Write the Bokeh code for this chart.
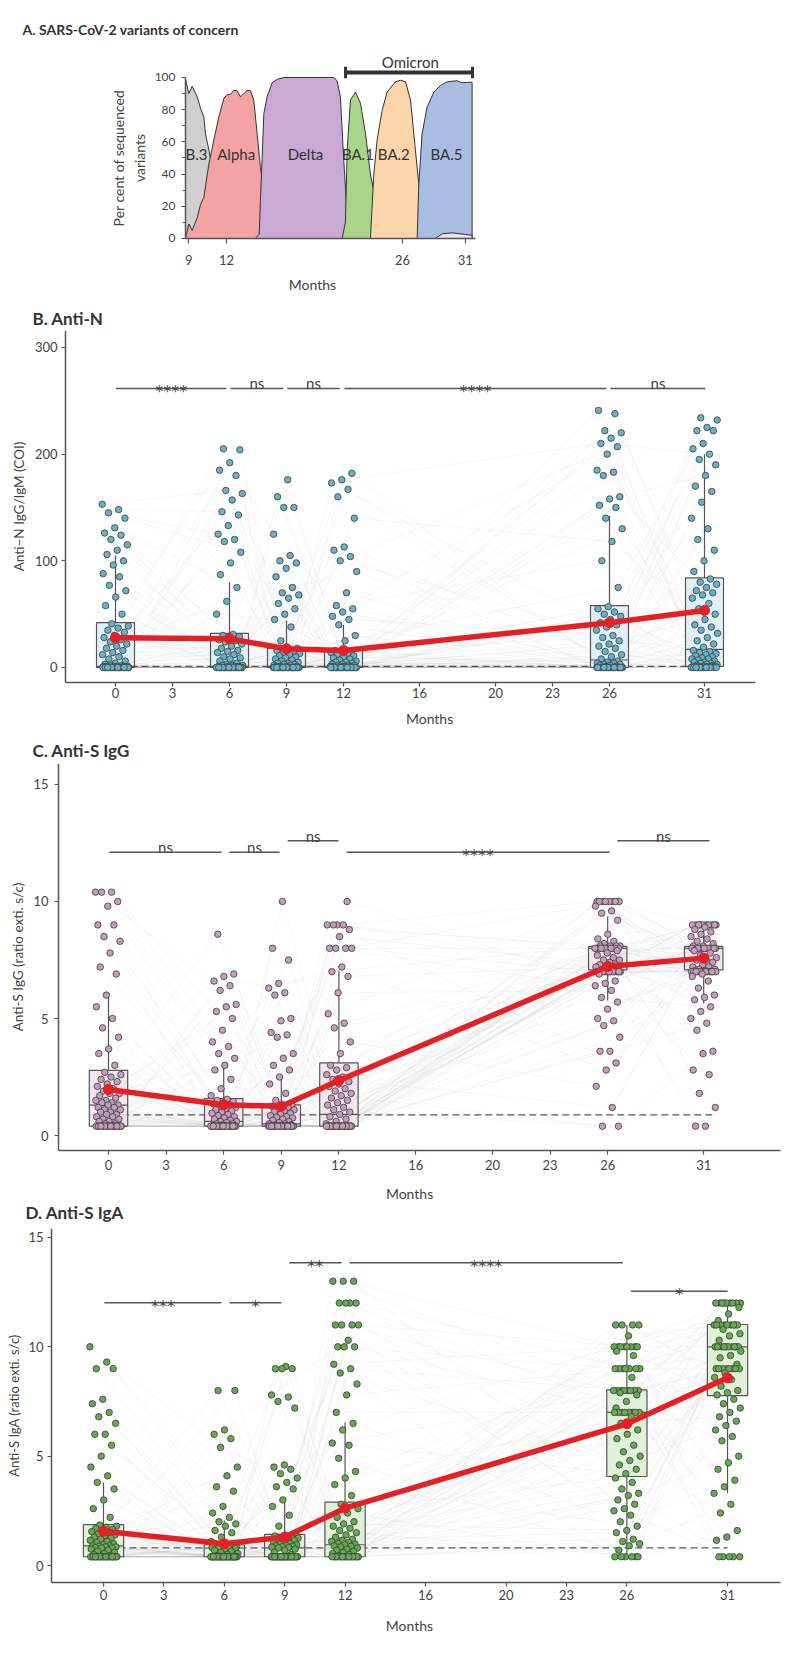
import numpy as np
from bokeh.plotting import figure
from bokeh.layouts import column
from bokeh.models import FixedTicker, Range1d
from bokeh.core.properties import value
from bokeh.embed import file_html
from bokeh.resources import INLINE

FONT = "Lato"
STAR_FONT = "DejaVu Sans"
TXT = "#444444"
AXC = "#555555"
RED = "#e41f26"

# ---------------- Panel A: variants (month, percent) ----------------
b3_m = [8.74, 8.74, 9.0, 9.27, 9.67, 9.93, 10.2, 10.33, 10.6, 11.0, 11.52, 12.3, 13.1, 13.5]
b3_p = [0, 99, 90, 94.6, 88, 81, 75.5, 65, 55, 38, 19, 5, 0.6, 0]
alpha_m = [8.74, 8.79, 9.0, 9.27, 9.67, 9.93, 10.2, 10.59, 10.99, 11.39, 11.79, 12.05, 12.32, 12.58,
           12.85, 13.11, 13.38, 13.64, 13.91, 14.17, 14.44, 14.7, 15.1, 15.5, 16.03, 16.56]
alpha_p = [0, 1.7, 9, 5, 13, 21, 25.6, 46, 61, 75.5, 87, 89.4, 89.6, 92, 91.7, 88, 90, 92, 91.7,
           86, 65, 44, 23.5, 7, 1.7, 0]
delta_m = [14.3, 14.6, 14.7, 14.97, 15.23, 15.63, 16.03, 16.56, 20.53, 20.8, 21.06, 21.33, 21.6,
           21.99, 22.52, 22.9]
delta_p = [0, 2.7, 23.5, 77.5, 88, 96.7, 98.8, 100, 100, 98, 88, 48.4, 15, 4.8, 0.6, 0]
ba1_m = [21.2, 21.46, 21.6, 21.86, 22.26, 22.66, 23.06, 23.45, 23.98, 24.78, 25.84, 26.6]
ba1_p = [0, 10, 54.7, 86, 91, 84, 65, 40, 19, 7, 1.7, 0]
ba2_m = [23.45, 23.72, 23.98, 24.38, 24.78, 25.44, 25.84, 26.24, 26.64, 27.03, 27.43, 27.96,
         28.76, 29.55, 30.0]
ba2_p = [0, 40, 61, 79.6, 91, 97.3, 98.3, 97.3, 86, 54.7, 23.5, 9, 2.7, 0.6, 0]
ba5_m = [27.17, 27.3, 27.56, 27.96, 28.5, 29.02, 29.55, 30.34, 30.74, 31.14, 31.54, 31.54]
ba5_p = [0, 34, 65, 81.7, 91, 95, 97.3, 98, 96.7, 97, 97, 0]
other_m = [28.6, 29.2, 30.0, 31.0, 31.54, 31.54]
other_p = [0, 3, 3.5, 2.5, 2, 0]
variant_names = ["B.3", "Alpha", "Delta", "BA.1", "BA.2", "BA.5"]
variant_label_m = [9.62, 12.77, 18.28, 22.45, 25.31, 29.5]
variant_label_p = [52.6, 52.6, 52.6, 52.6, 52.6, 52.6]
omicron_start, omicron_end, omicron_level = 21.47, 31.57, 103.1

# ---------------- Panels B-D ----------------
timepoints = [0, 6, 9, 12, 26, 31]
month_ticks = [0, 3, 6, 9, 12, 16, 20, 23, 26, 31]

antiN_0 = [153, 148, 145, 140, 131, 126, 124, 120, 115, 110, 106, 100, 96, 88, 85, 77, 72, 66, 58, 50,
           41, 39, 37, 35, 33, 30, 28, 26, 24, 22, 20, 18, 16, 14, 12, 10, 8, 6, 4, 3,
           2, 2, 1, 1, 1, 1, 1, 1, 0, 0, 0, 0, 0, 0, 0, 0, 0, 0, 0, 0,
           0, 0, 0, 0, 0, 0, 0, 0, 0, 0, 0, 0, 0, 0, 0, 0, 0, 0, 0, 0]
antiN_6 = [205, 204, 192, 185, 180, 166, 163, 157, 146, 143, 133, 125, 120, 118, 108, 98, 87, 75, 62, 50,
           31, 30, 29, 28, 26, 25, 24, 22, 20, 18, 16, 15, 14, 12, 10, 9, 8, 6, 4, 3,
           2, 2, 2, 1, 1, 1, 1, 0, 0, 0, 0, 0, 0, 0, 0, 0, 0, 0, 0, 0,
           0, 0, 0, 0, 0, 0, 0, 0, 0, 0, 0, 0, 0, 0, 0, 0, 0, 0, 0, 0]
antiN_9 = [176, 160, 150, 150, 125, 105, 100, 98, 93, 85, 75, 70, 68, 65, 60, 55, 50, 45, 38, 25,
           18, 17, 16, 15, 14, 13, 12, 11, 10, 9, 8, 7, 6, 5, 4, 4, 3, 3, 2, 2,
           1, 1, 1, 1, 0, 0, 0, 0, 0, 0, 0, 0, 0, 0, 0, 0, 0, 0, 0, 0,
           0, 0, 0, 0, 0, 0, 0, 0, 0, 0, 0, 0, 0, 0, 0, 0, 0, 0, 0, 0]
antiN_12 = [182, 176, 173, 167, 160, 140, 113, 110, 104, 100, 90, 70, 58, 55, 52, 48, 45, 40, 30, 25,
            16, 15, 15, 14, 13, 12, 11, 10, 9, 8, 7, 6, 5, 5, 4, 3, 3, 2, 2, 2,
            1, 1, 1, 1, 1, 0, 0, 0, 0, 0, 0, 0, 0, 0, 0, 0, 0, 0, 0, 0,
            0, 0, 0, 0, 0, 0, 0, 0, 0, 0, 0, 0, 0, 0, 0, 0, 0, 0, 0, 0]
antiN_26 = [241, 238, 222, 220, 215, 210, 207, 200, 185, 183, 180, 160, 158, 152, 150, 140, 130, 118, 100, 75,
            57, 55, 52, 50, 48, 45, 42, 40, 38, 35, 30, 28, 25, 22, 20, 18, 15, 12, 10, 8,
            6, 5, 4, 4, 3, 3, 2, 2, 1, 1, 0, 0, 0, 0, 0, 0, 0, 0, 0, 0,
            0, 0, 0, 0, 0, 0, 0, 0, 0, 0, 0, 0, 0, 0, 0, 0, 0, 0, 0, 0]
antiN_31 = [234, 232, 225, 222, 222, 210, 205, 200, 195, 190, 180, 170, 165, 155, 140, 130, 120, 110, 100, 90,
            83, 80, 78, 75, 72, 70, 68, 65, 60, 55, 50, 45, 40, 38, 35, 32, 28, 25, 22, 19,
            16, 15, 14, 13, 12, 11, 10, 9, 8, 8, 7, 6, 5, 5, 4, 4, 3, 3, 2, 2,
            1, 1, 1, 1, 1, 1, 1, 1, 0, 0, 0, 0, 0, 0, 0, 0, 0, 0, 0, 0]
antiN_q1 = [0, 0, 0, 0, 0, 1]
antiN_med = [1, 1, 1, 1, 7, 17]
antiN_q3 = [42, 32, 18, 16, 58, 84]
antiN_lo = [0, 0, 0, 0, 0, 0]
antiN_hi = [105, 80, 44, 40, 142, 200]
antiN_mean = [27.8, 26.9, 17.5, 15.9, 42, 53.5]
antiN_cutoff = 1.0
antiN_sig_x0 = [0.03, 6.05, 9.04, 12.05, 26.05]
antiN_sig_x1 = [5.83, 8.83, 11.8, 25.84, 31.05]
antiN_sig_y = [261.6, 261.6, 261.6, 261.6, 261.6]
antiN_sig_lab = ["****", "ns", "ns", "****", "ns"]

igg_0 = [10.4, 10.4, 10.4, 10.0, 9.8, 9.0, 9.0, 8.5, 8.3, 7.8, 7.2, 6.9, 6.0, 5.5, 5.0, 4.6, 4.2, 3.7, 3.5, 3.0,
         2.7, 2.6, 2.5, 2.4, 2.3, 2.2, 2.1, 2.0, 1.9, 1.8, 1.8, 1.7, 1.6, 1.5, 1.5, 1.4, 1.4, 1.3, 1.3, 1.2,
         1.2, 1.1, 1.1, 1.0, 1.0, 0.9, 0.9, 0.8, 0.8, 0.7, 0.7, 0.6, 0.6, 0.5, 0.5, 0.4, 0.4, 0.4, 0.4, 0.4,
         0.4, 0.4, 0.4, 0.4, 0.4, 0.4, 0.4, 0.4, 0.4, 0.4, 0.4, 0.4, 0.4, 0.4, 0.4, 0.4, 0.4, 0.4, 0.4, 0.4]
igg_6 = [8.6, 6.9, 6.8, 6.6, 6.4, 6.2, 5.6, 5.5, 5.3, 5.0, 4.5, 4.0, 3.8, 3.5, 3.3, 3.0, 2.8, 2.4, 2.0, 1.7,
         1.55, 1.5, 1.45, 1.4, 1.35, 1.3, 1.25, 1.2, 1.15, 1.1, 1.05, 1.0, 0.95, 0.9, 0.85, 0.8, 0.75, 0.7, 0.65, 0.6,
         0.6, 0.55, 0.5, 0.5, 0.45, 0.4, 0.4, 0.4, 0.4, 0.4, 0.4, 0.4, 0.4, 0.4, 0.4, 0.4, 0.4, 0.4, 0.4, 0.4,
         0.4, 0.4, 0.4, 0.4, 0.4, 0.4, 0.4, 0.4, 0.4, 0.4, 0.4, 0.4, 0.4, 0.4, 0.4, 0.4, 0.4, 0.4, 0.4, 0.4]
igg_9 = [10.0, 8.0, 7.5, 6.5, 6.3, 6.1, 6.0, 5.0, 4.9, 4.4, 4.3, 4.2, 3.5, 3.3, 3.0, 2.8, 2.5, 2.2, 1.8, 1.5,
         1.3, 1.28, 1.25, 1.2, 1.15, 1.1, 1.05, 1.0, 0.95, 0.9, 0.85, 0.8, 0.78, 0.75, 0.7, 0.65, 0.6, 0.55, 0.5, 0.5,
         0.45, 0.45, 0.4, 0.4, 0.4, 0.4, 0.4, 0.4, 0.4, 0.4, 0.4, 0.4, 0.4, 0.4, 0.4, 0.4, 0.4, 0.4, 0.4, 0.4,
         0.4, 0.4, 0.4, 0.4, 0.4, 0.4, 0.4, 0.4, 0.4, 0.4, 0.4, 0.4, 0.4, 0.4, 0.4, 0.4, 0.4, 0.4, 0.4, 0.4]
igg_12 = [10.0, 9.0, 9.0, 9.0, 9.0, 8.8, 8.5, 8.0, 8.0, 8.0, 8.0, 7.2, 7.0, 6.8, 6.1, 5.2, 4.8, 4.6, 4.0, 3.5,
          3.0, 2.9, 2.8, 2.6, 2.5, 2.4, 2.3, 2.2, 2.1, 2.0, 1.9, 1.8, 1.7, 1.6, 1.5, 1.4, 1.3, 1.2, 1.1, 1.0,
          0.9, 0.8, 0.7, 0.6, 0.5, 0.4, 0.4, 0.4, 0.4, 0.4, 0.4, 0.4, 0.4, 0.4, 0.4, 0.4, 0.4, 0.4, 0.4, 0.4,
          0.4, 0.4, 0.4, 0.4, 0.4, 0.4, 0.4, 0.4, 0.4, 0.4, 0.4, 0.4, 0.4, 0.4, 0.4, 0.4, 0.4, 0.4, 0.4, 0.4]
igg_26 = [10, 10, 10, 10, 10, 10, 10, 10, 9.8, 9.6, 9.5, 9.2, 8.6, 8.4, 8.3, 8.2, 8.1, 8.1, 8.1, 8.1,
          8, 8, 8, 8, 8, 8, 8, 8, 8, 8, 8, 8, 7.9, 7.8, 7.7, 7.6, 7.5, 7.5, 7.4, 7.3,
          7.3, 7.2, 7.2, 7.1, 7.1, 7, 7, 7, 7, 7, 7, 7, 7, 7, 7, 7, 7, 7, 7, 7,
          6.9, 6.6, 6.5, 6.4, 6.2, 5.9, 5.7, 5.4, 5.0, 4.9, 4.7, 4.2, 3.6, 3.6, 3.1, 2.8, 2.1, 1.2, 0.4, 0.4]
igg_31 = [9, 9, 9, 9, 9, 9, 9, 9, 9, 9, 8.9, 8.8, 8.7, 8.6, 8.5, 8.4, 8.3, 8.2, 8.1, 8.1,
          8, 8, 8, 8, 8, 8, 8, 8, 8, 8, 8, 8, 7.9, 7.8, 7.7, 7.6, 7.5, 7.5, 7.4, 7.3,
          7.2, 7.2, 7.1, 7.1, 7.05, 7.05, 7, 7, 7, 7, 7, 7, 7, 7, 7, 7, 7, 7, 7, 7,
          6.9, 6.8, 6.6, 6.3, 6.0, 5.9, 5.8, 5.5, 5.3, 5.0, 4.8, 4.5, 3.6, 3.5, 2.8, 2.6, 1.8, 1.2, 0.4, 0.4]
igg_q1 = [0.4, 0.4, 0.4, 0.4, 7.08, 7.08]
igg_med = [1.3, 0.6, 0.5, 0.9, 8.0, 8.0]
igg_q3 = [2.78, 1.58, 1.31, 3.1, 8.08, 8.08]
igg_lo = [0.4, 0.4, 0.4, 0.4, 5.77, 5.64]
igg_hi = [6.07, 3.1, 2.6, 7.05, 9.36, 9.07]
igg_mean = [1.97, 1.31, 1.25, 2.35, 7.22, 7.58]
igg_cutoff = 0.88
igg_sig_x0 = [0.05, 6.3, 9.33, 12.4, 26.5]
igg_sig_x1 = [5.89, 8.91, 11.98, 26.1, 31.3]
igg_sig_y = [12.1, 12.1, 12.6, 12.1, 12.6]
igg_sig_lab = ["ns", "ns", "ns", "****", "ns"]

iga_0 = [10, 9.3, 9, 9, 7.6, 7.4, 7.0, 6.8, 6.5, 6.0, 6.0, 5.5, 5.0, 4.5, 4.1, 3.8, 3.5, 3.0, 2.6, 2.2,
         1.85, 1.8, 1.75, 1.7, 1.65, 1.6, 1.55, 1.5, 1.45, 1.4, 1.35, 1.3, 1.25, 1.2, 1.15, 1.1, 1.05, 1.0, 0.95, 0.9,
         0.9, 0.88, 0.85, 0.85, 0.82, 0.8, 0.8, 0.75, 0.7, 0.65, 0.6, 0.55, 0.5, 0.45, 0.4, 0.4, 0.4, 0.4, 0.4, 0.4,
         0.4, 0.4, 0.4, 0.4, 0.4, 0.4, 0.4, 0.4, 0.4, 0.4, 0.4, 0.4, 0.4, 0.4, 0.4, 0.4, 0.4, 0.4, 0.4, 0.4]
iga_6 = [8.0, 8.0, 6.2, 6.0, 5.8, 5.4, 4.5, 4.1, 3.6, 3.4, 2.7, 2.4, 2.2, 2.0, 1.9, 1.8, 1.6, 1.5, 1.3, 1.1,
         0.95, 0.94, 0.93, 0.92, 0.9, 0.9, 0.88, 0.87, 0.86, 0.85, 0.84, 0.83, 0.82, 0.81, 0.8, 0.78, 0.75, 0.7, 0.65, 0.6,
         0.55, 0.5, 0.45, 0.4, 0.4, 0.4, 0.4, 0.4, 0.4, 0.4, 0.4, 0.4, 0.4, 0.4, 0.4, 0.4, 0.4, 0.4, 0.4, 0.4,
         0.4, 0.4, 0.4, 0.4, 0.4, 0.4, 0.4, 0.4, 0.4, 0.4, 0.4, 0.4, 0.4, 0.4, 0.4, 0.4, 0.4, 0.4, 0.4, 0.4]
iga_9 = [9.1, 9.0, 9.0, 9.0, 7.8, 7.7, 7.5, 7.2, 4.6, 4.5, 4.4, 4.2, 4.0, 3.8, 3.6, 3.5, 3.0, 2.7, 2.3, 1.8,
         1.4, 1.38, 1.35, 1.3, 1.28, 1.25, 1.2, 1.18, 1.15, 1.1, 1.05, 1.0, 0.98, 0.95, 0.92, 0.9, 0.88, 0.86, 0.84, 0.82,
         0.8, 0.75, 0.7, 0.6, 0.5, 0.4, 0.4, 0.4, 0.4, 0.4, 0.4, 0.4, 0.4, 0.4, 0.4, 0.4, 0.4, 0.4, 0.4, 0.4,
         0.4, 0.4, 0.4, 0.4, 0.4, 0.4, 0.4, 0.4, 0.4, 0.4, 0.4, 0.4, 0.4, 0.4, 0.4, 0.4, 0.4, 0.4, 0.4, 0.4]
iga_12 = [13, 13, 13, 12, 12, 12, 12, 11, 11, 11, 11, 10.3, 10, 10, 10, 9.2, 9, 8.8, 8.3, 7.8,
          7, 6.5, 6.2, 5.6, 5.5, 4.9, 4.3, 4, 3.7, 3.2, 2.8, 2.6, 2.4, 2.2, 2.0, 1.9, 1.8, 1.7, 1.6, 1.5,
          1.4, 1.3, 1.2, 1.15, 1.1, 1.05, 1.0, 0.98, 0.95, 0.9, 0.88, 0.85, 0.8, 0.75, 0.7, 0.65, 0.6, 0.55, 0.5, 0.45,
          0.4, 0.4, 0.4, 0.4, 0.4, 0.4, 0.4, 0.4, 0.4, 0.4, 0.4, 0.4, 0.4, 0.4, 0.4, 0.4, 0.4, 0.4, 0.4, 0.4]
iga_26 = [11, 11, 11, 11, 10.5, 10, 10, 10, 10, 10, 10, 10, 10, 9.8, 9.6, 9, 9, 9, 9, 9,
          9, 9, 8.6, 8, 8, 8, 8, 8, 8, 8, 8, 7.9, 7.8, 7.5, 7.2, 7, 7, 7, 7, 7,
          7, 7, 7, 6.8, 6.5, 6.2, 6.0, 5.8, 5.5, 5.2, 5.0, 4.8, 4.6, 4.4, 4.2, 4.0, 3.8, 3.5, 3.3, 3.2,
          3.0, 2.8, 2.6, 2.5, 2.3, 2.0, 1.8, 1.6, 1.5, 1.2, 1.1, 1.0, 0.9, 0.7, 0.4, 0.4, 0.4, 0.4, 0.4, 0.4]
iga_31 = [12, 12, 12, 12, 12, 12, 12, 12, 12, 11.8, 11.5, 11.2, 11, 11, 11, 11, 11, 11, 11, 11,
          11, 10.8, 10.6, 10.5, 10.3, 10, 10, 10, 10, 10, 10, 10, 10, 10, 10, 9.8, 9.6, 9.5, 9.2, 9,
          9, 9, 9, 9, 9, 9, 9, 8.8, 8.6, 8.5, 8.2, 8.0, 7.9, 7.8, 7.6, 7.4, 7.2, 7.0, 6.8, 6.6,
          6.4, 6.2, 5.9, 5.7, 5.0, 4.7, 4.4, 3.9, 3.6, 3.3, 2.8, 2.4, 1.6, 1.3, 1.15, 0.4, 0.4, 0.4, 0.4, 0.4]
iga_q1 = [0.4, 0.4, 0.4, 0.4, 4.07, 7.77]
iga_med = [0.9, 0.8, 0.81, 0.95, 7.0, 10.0]
iga_q3 = [1.87, 0.95, 1.42, 2.9, 8.03, 11.02]
iga_lo = [0.4, 0.4, 0.4, 0.4, 0.4, 3.3]
iga_hi = [3.8, 2.06, 2.9, 6.55, 11.0, 12.0]
iga_mean = [1.57, 0.99, 1.3, 2.62, 6.48, 8.58]
iga_cutoff = 0.81
iga_sig_x0 = [0.05, 6.26, 9.23, 12.22, 26.2]
iga_sig_x1 = [5.85, 8.83, 11.82, 25.8, 31.0]
iga_sig_y = [12.01, 12.01, 13.84, 13.84, 12.54]
iga_sig_lab = ["***", "*", "**", "****", "*"]

# subject pairing across visits (index permutation) and horizontal jitter
PERM_K = [1, 3, 7, 11, 13, 17]
PERM_C = [0, 5, 11, 23, 31, 41]


def jit(i, g, spread):
    return ((i * 0.6180339887 + g * 0.2718) % 1.0 - 0.5) * spread


def base_fig(height, top, xr, yr, title, title_size, title_offset, standoff, yaxis_at, xaxis_at,
             xbounds, ybounds):
    p = figure(width=800, height=height, x_range=Range1d(*xr), y_range=Range1d(*yr),
               output_backend="svg", toolbar_location=None, title=title,
               min_border_left=0, min_border_right=0, min_border_top=top, min_border_bottom=0)
    p.xgrid.visible = False
    p.ygrid.visible = False
    p.outline_line_color = None
    if title:
        p.title.align = "left"
        p.title.offset = title_offset
        p.title.standoff = standoff
        p.title.text_font = FONT
        p.title.text_font_size = title_size
        p.title.text_font_style = "bold"
        p.title.text_color = "#333333"
    p.yaxis.fixed_location = yaxis_at
    p.xaxis.fixed_location = xaxis_at
    p.xaxis.bounds = xbounds
    p.yaxis.bounds = ybounds
    for ax in (p.xaxis[0], p.yaxis[0]):
        ax.axis_line_color = AXC
        ax.axis_line_width = 1.5
        ax.major_tick_line_color = AXC
        ax.major_tick_line_width = 1.2
        ax.major_tick_out = 4
        ax.major_tick_in = 0
        ax.minor_tick_line_color = None
        ax.major_label_text_font = FONT
        ax.major_label_text_font_size = "13px"
        ax.major_label_text_color = TXT
        ax.axis_label_text_font = FONT
        ax.axis_label_text_font_style = "normal"
        ax.axis_label_text_font_size = "14px"
        ax.axis_label_text_color = TXT
    return p


def months_label(p, x, y):
    p.text(x=[x], y=[y], text=["Months"], text_font=value(FONT), text_font_size="14px",
           text_color=TXT, text_align="center", text_baseline="middle")


# ---------------- Figure A ---------------- page y 0..300, frame 40..300, y=0 at page 238
pa = base_fig(300, 40, (-5.979, 57.664), (-38.51, 122.98),
              "A. SARS-CoV-2 variants of concern", "14px", 22, 5, 8.74, 0, (8.74, 31.81), (0, 100))
areas = [(b3_m, b3_p, "#cfcfcf"), (alpha_m, alpha_p, "#f4a3a5"), (delta_m, delta_p, "#c9a8d3"),
         (ba1_m, ba1_p, "#a9d58a"), (ba2_m, ba2_p, "#fdd5ab"), (ba5_m, ba5_p, "#a9bde3"),
         (other_m, other_p, "#e6e6e6")]
for xm, yp, col in areas:
    pa.patch(xm, yp, fill_color=col, line_color="#333333", line_width=1)
pa.text(x=variant_label_m, y=variant_label_p, text=variant_names, text_font=value(FONT),
        text_font_size="15px", text_color="#333333", text_align="center", text_baseline="middle")
pa.segment(x0=[omicron_start], x1=[omicron_end], y0=[omicron_level], y1=[omicron_level],
           line_color="#333333", line_width=4)
pa.segment(x0=[omicron_start, omicron_end], x1=[omicron_start, omicron_end],
           y0=[omicron_level - 3.6, omicron_level - 3.6], y1=[omicron_level + 3.6, omicron_level + 3.6],
           line_color="#333333", line_width=3)
pa.text(x=[(omicron_start + omicron_end) / 2 + 0.1], y=[omicron_level + 6.5], text=["Omicron"],
        text_font=value(FONT), text_font_size="15px", text_color="#333333",
        text_align="center", text_baseline="middle")
pa.xaxis.ticker = FixedTicker(ticks=[9, 12, 26, 31])
pa.yaxis.ticker = FixedTicker(ticks=[0, 20, 40, 60, 80, 100], minor_ticks=[10, 30, 50, 70, 90])
pa.yaxis.minor_tick_line_color = AXC
pa.yaxis.minor_tick_out = 3
pa.yaxis.minor_tick_in = 0
pa.xaxis.major_tick_out = 5
pa.xaxis.major_label_standoff = 12
pa.yaxis.axis_label = "Per cent of sequenced\nvariants"
pa.yaxis.axis_label_standoff = 4
pa.yaxis.major_label_standoff = 6
pa.yaxis.major_label_text_font_size = "12px"
pa.yaxis.axis_label_text_font_size = "14px"
months_label(pa, 18.84, -28.57)


def draw_panel(p, groups, q1, med, q3, lo, hi, mean, cutoff, cut_x, sig_x0, sig_x1, sig_y, sig_lab,
               box_fill, pt_fill, spread, ppu):
    n_sub = min(len(g) for g in groups)
    xs_l, ys_l = [], []
    for s in range(n_sub):
        xl, yl = [], []
        for g, vals in enumerate(groups):
            idx = (s * PERM_K[g] + PERM_C[g]) % len(vals)
            xl.append(timepoints[g] + jit(idx, g, spread))
            yl.append(vals[idx])
        xs_l.append(xl)
        ys_l.append(yl)
    p.multi_line(xs_l, ys_l, line_color="#8a8a8a", line_alpha=0.09, line_width=0.8)
    p.line(cut_x, [cutoff, cutoff], line_dash="7 4", line_color="#555555", line_width=1.3)
    p.vbar(x=timepoints, width=2.0, bottom=q1, top=q3, fill_color=box_fill, fill_alpha=0.85,
           line_color="#555555", line_width=1.2)
    p.segment(x0=[t - 1 for t in timepoints], x1=[t + 1 for t in timepoints], y0=med, y1=med,
              line_color="#555555", line_width=1.2)
    p.segment(x0=timepoints, x1=timepoints, y0=q3, y1=hi, line_color="#555555", line_width=1.2)
    p.segment(x0=timepoints, x1=timepoints, y0=lo, y1=q1, line_color="#555555", line_width=1.2)
    px, py = [], []
    for g, vals in enumerate(groups):
        for i, v in enumerate(vals):
            px.append(timepoints[g] + jit(i, g, spread))
            py.append(v)
    p.scatter(px, py, size=6.5, fill_color=pt_fill, line_color="#33403f", line_width=0.8)
    p.line(timepoints, mean, line_color=RED, line_width=5.5)
    p.scatter(timepoints, mean, size=10, fill_color=RED, line_color=RED)
    p.segment(x0=sig_x0, x1=sig_x1, y0=sig_y, y1=sig_y, line_color="#555555", line_width=1.5)
    cx = [(a + b) / 2 for a, b in zip(sig_x0, sig_x1)]
    ns_x = [c for c, l in zip(cx, sig_lab) if l == "ns"]
    ns_y = [y + 5 / ppu for y, l in zip(sig_y, sig_lab) if l == "ns"]
    st_x = [c for c, l in zip(cx, sig_lab) if l != "ns"]
    st_y = [y - 3.5 / ppu for y, l in zip(sig_y, sig_lab) if l != "ns"]
    st_t = [l for l in sig_lab if l != "ns"]
    if ns_x:
        p.text(x=ns_x, y=ns_y, text=["ns"] * len(ns_x), text_font=value(FONT), text_font_size="15px",
               text_color=TXT, text_align="center", text_baseline="alphabetic")
    if st_x:
        p.text(x=st_x, y=st_y, text=st_t, text_font=value(STAR_FONT), text_font_size="16px",
               text_color=TXT, text_align="center", text_baseline="alphabetic")
    p.xaxis.ticker = FixedTicker(ticks=month_ticks)


# ---------------- Figure B ---------------- page y 300..732, frame 330..732, 0 at 667 (1.0667 px/unit)
pb = base_fig(432, 30, (-6.053, 36.053), (-60.94, 315.9), "B. Anti-N", "17px", 32, 3,
              -2.632, -14.06, (-2.632, 33.684), (-14.06, 315.9))
draw_panel(pb, [antiN_0, antiN_6, antiN_9, antiN_12, antiN_26, antiN_31], antiN_q1, antiN_med, antiN_q3,
           antiN_lo, antiN_hi, antiN_mean, antiN_cutoff, [-0.95, 31.8], antiN_sig_x0, antiN_sig_x1,
           antiN_sig_y, antiN_sig_lab, "#dcedf3", "#6bb0c4", 1.4, 1.0668)
pb.yaxis.ticker = FixedTicker(ticks=[0, 100, 200, 300])
pb.yaxis.axis_label = "Anti\u2212N IgG/IgM (COI)"
pb.yaxis.major_label_standoff = 4
pb.yaxis.axis_label_standoff = 5
pb.yaxis.axis_label_text_font_size = "13.5px"
pb.xaxis.major_label_standoff = 2
months_label(pb, 16.53, -47.8)

# ---------------- Figure C ---------------- page y 732..1228, frame 763..1228, 0 at 1135 (23.4 px/unit)
pc = base_fig(496, 31, (-5.625, 36.042), (-3.974, 15.897), "C. Anti-S IgG", "17px", 32, 6,
              -2.604, -0.641, (-2.604, 35.0), (-0.641, 15.897))
draw_panel(pc, [igg_0, igg_6, igg_9, igg_12, igg_26, igg_31], igg_q1, igg_med, igg_q3, igg_lo, igg_hi,
           igg_mean, igg_cutoff, [-1.0, 31.5], igg_sig_x0, igg_sig_x1, igg_sig_y, igg_sig_lab,
           "#f1e2ec", "#c99bbb", 1.35, 23.4)
pc.yaxis.ticker = FixedTicker(ticks=[0, 5, 10, 15])
pc.yaxis.axis_label = "Anti-S IgG (ratio exti. s/c)"
pc.yaxis.major_label_standoff = 6
pc.yaxis.axis_label_standoff = 4
pc.yaxis.axis_label_text_font_size = "13.5px"
pc.xaxis.major_label_standoff = 5
months_label(pc, 15.68, -2.479)
# heading of panel D sits in the band shared with panel C's axis title
pc.text(x=[-4.323], y=[-3.29], text=["D. Anti-S IgA"], text_font=value(FONT), text_font_size="17px",
        text_font_style="bold", text_color="#333333", text_align="left", text_baseline="alphabetic")

# ---------------- Figure D ---------------- page y 1228..1660, frame 1228..1660, 0 at 1565 (21.87 px/unit)
pd_ = base_fig(432, 0, (-5.117, 34.625), (-4.344, 15.41), None, "17px", 0, 0,
               -2.583, -0.777, (-2.583, 33.63), (-0.777, 15.41))
draw_panel(pd_, [iga_0, iga_6, iga_9, iga_12, iga_26, iga_31], iga_q1, iga_med, iga_q3, iga_lo, iga_hi,
           iga_mean, iga_cutoff, [-0.9, 31.0], iga_sig_x0, iga_sig_x1, iga_sig_y, iga_sig_lab,
           "#dcefd2", "#6aa84f", 1.35, 21.87)
pd_.yaxis.ticker = FixedTicker(ticks=[0, 5, 10, 15])
pd_.yaxis.axis_label = "Anti-S IgA (ratio exti. s/c)"
pd_.yaxis.major_label_standoff = 4
pd_.yaxis.axis_label_standoff = 3
pd_.yaxis.axis_label_text_font_size = "13px"
pd_.xaxis.major_label_standoff = 4
months_label(pd_, 15.2, -2.743)

layout = column(pa, pb, pc, pd_, spacing=0)
open("out.html", "w").write(file_html(layout, INLINE))
